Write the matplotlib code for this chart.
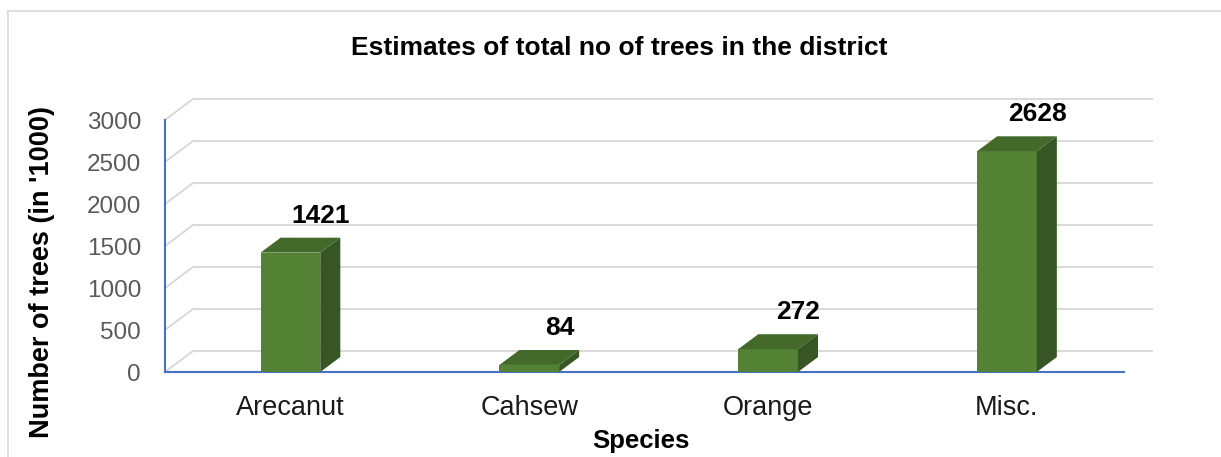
import numpy as np
import matplotlib.pyplot as plt
from matplotlib.patches import Polygon

plt.rcParams['font.family'] = ['Liberation Sans', 'DejaVu Sans']

# Data
species = ["Arecanut", "Cahsew", "Orange", "Misc."]
trees = [1421, 84, 272, 2628]
yticks = [0, 500, 1000, 1500, 2000, 2500, 3000]

# pseudo-3D geometry (data units)
x0, x1 = -0.525, 3.49      # front floor edges
gdx, gdy = 0.117, 250      # floor / wall depth
w = 0.25                   # bar width
bdx, bdy = 0.084, 178      # bar depth

front_c = '#548235'
top_c = '#436A2A'
side_c = '#375623'
grid_c = '#D9D9D9'
axis_c = '#4472C4'

fig = plt.figure(figsize=(12.21, 4.57), dpi=100)
ax = fig.add_axes([165 / 1221, 85 / 457, 990 / 1221, 277.2 / 457])
ax.set_xlim(x0, 3.62)
ax.set_ylim(0, 3300)
ax.axis('off')

# back wall gridlines and side wall diagonals
for v in yticks:
    ax.plot([x0 + gdx, x1 + gdx], [v + gdy, v + gdy], color=grid_c, lw=1.4, zorder=1)
    ax.plot([x0, x0 + gdx], [v, v + gdy], color=grid_c, lw=1.4, zorder=1)

# front axis lines
ax.plot([x0, x0], [0, 3000], color=axis_c, lw=1.5, zorder=2, clip_on=False)
ax.plot([x0, x1], [0, 0], color=axis_c, lw=1.5, zorder=2, clip_on=False)

# bars
for i, v in enumerate(trees):
    l, r = i - w / 2, i + w / 2
    front = Polygon([(l, 0), (r, 0), (r, v), (l, v)], closed=True, fc=front_c, ec='none', zorder=3)
    top = Polygon([(l, v), (r, v), (r + bdx, v + bdy), (l + bdx, v + bdy)], closed=True,
                  fc=top_c, ec='none', zorder=3)
    side = Polygon([(r, 0), (r + bdx, bdy), (r + bdx, v + bdy), (r, v)], closed=True,
                   fc=side_c, ec='none', zorder=3)
    for p in (front, top, side):
        ax.add_patch(p)
    ax.text(i + 0.126, v + bdy + 262, str(v), ha='center', va='center', fontsize=19,
            fontweight='bold', color='black', zorder=4)
    ax.text(i, -430, species[i], ha='center', va='center', fontsize=19.5, color='#1a1a1a',
            clip_on=False)

# y tick labels
for v in yticks:
    ax.text(x0 - 0.1, v - 35, str(v), ha='right', va='center', fontsize=17.5, color='#595959',
            clip_on=False)

fig.text(619 / 1221, 1 - 48 / 457, "Estimates of total no of trees in the district",
         ha='center', va='center', fontsize=19, fontweight='bold')
fig.text(641 / 1221, 1 - 441 / 457, "Species", ha='center', va='center', fontsize=18.5,
         fontweight='bold')
fig.text(42 / 1221, 1 - 272 / 457, "Number of trees (in '1000)", ha='center', va='center',
         rotation=90, fontsize=19.5, fontweight='bold')

# chart border (cropped at right and bottom)
fig.add_artist(plt.Line2D([8 / 1221, 8 / 1221], [0, 1 - 11 / 457], transform=fig.transFigure,
                          color='#D9D9D9', lw=1.2))
fig.add_artist(plt.Line2D([8 / 1221, 1], [1 - 11 / 457, 1 - 11 / 457], transform=fig.transFigure,
                          color='#D9D9D9', lw=1.2))

fig.savefig('out.png', dpi=100)
